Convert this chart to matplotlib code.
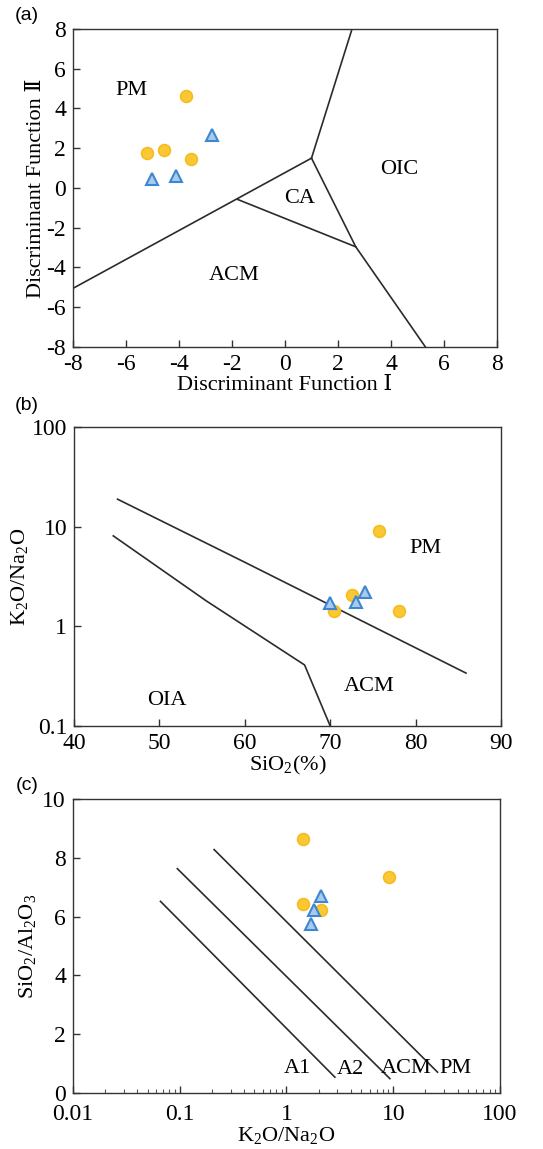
import numpy as np
import matplotlib
matplotlib.use("Agg")
from matplotlib import pyplot as plt
from matplotlib.ticker import LogLocator, FixedLocator, NullLocator

plt.rcParams['font.family'] = ['Liberation Serif', 'DejaVu Serif']
plt.rcParams['mathtext.fontset'] = 'custom'
plt.rcParams['mathtext.rm'] = 'Liberation Serif'
plt.rcParams['mathtext.it'] = 'Liberation Serif:italic'
plt.rcParams['axes.unicode_minus'] = False

# ---- panel (a): discriminant functions ----
a_circ_x = [-3.75, -5.2, -4.57, -3.55]
a_circ_y = [4.61, 1.78, 1.93, 1.46]
a_tri_x = [-2.74, -5.02, -4.12]
a_tri_y = [2.66, 0.45, 0.6]
a_lines = [
    ([-8, 1.0], [-5.05, 1.5]),
    ([1.0, 2.53], [1.5, 8]),
    ([1.0, 2.67, 5.3], [1.5, -2.96, -8]),
    ([-1.8, 2.67], [-0.57, -2.96]),
]
a_labels = [("PM", -5.8, 4.9), ("OIC", 4.3, 0.95), ("CA", 0.55, -0.55), ("ACM", -1.9, -4.4)]

# ---- panel (b): SiO2 vs K2O/Na2O ----
b_circ_x = [75.7, 72.5, 70.4, 78.1]
b_circ_y = [9.0, 2.06, 1.42, 1.42]
b_tri_x = [70.0, 73.0, 74.1]
b_tri_y = [1.72, 1.77, 2.19]
b_lines = [
    ([45.1, 60.0, 85.9], [18.9, 4.4, 0.34]),
    ([44.6, 55.5, 67.0, 70.0], [8.1, 1.8, 0.41, 0.1]),
]
b_labels = [("PM", 81.1, 6.0), ("ACM", 74.6, 0.25), ("OIA", 50.9, 0.18)]

# ---- panel (c): K2O/Na2O vs SiO2/Al2O3 ----
c_circ_x = [1.44, 9.2, 1.43, 2.1]
c_circ_y = [8.64, 7.35, 6.42, 6.21]
c_tri_x = [2.1, 1.8, 1.68]
c_tri_y = [6.69, 6.21, 5.76]
c_lines = [
    ([0.066, 2.84], [6.52, 0.54]),
    ([0.095, 9.3], [7.63, 0.49]),
    ([0.21, 26.0], [8.28, 0.71]),
]
c_labels = [("A1", 1.27, 0.82), ("A2", 3.98, 0.79), ("ACM", 13.1, 0.85), ("PM", 37.9, 0.82)]

circ_style = dict(marker='o', ms=8.5, mfc='#F9C834', mec='#F6BC1E', mew=1.2, ls='none')
tri_style = dict(marker='^', ms=8.5, mfc='#A9CBEB', mec='#3E86D1', mew=1.5, ls='none')
line_col = '#2b2b2b'
fs = 16
tfs = 17

fig = plt.figure(figsize=(5.43, 11.49), dpi=100)

def style(ax):
    for s in ax.spines.values():
        s.set_color('#333333')
        s.set_linewidth(1.0)
    ax.tick_params(direction='in', labelsize=tfs, length=5, width=1, color='#333333', pad=5)
    ax.tick_params(which='minor', direction='in', length=3, width=0.8, color='#555555')

# (a)
ax1 = fig.add_axes([0.1344, 0.698, 0.7809, 0.2768])
for lx, ly in a_lines:
    ax1.plot(lx, ly, color=line_col, lw=1.2)
ax1.plot(a_circ_x, a_circ_y, **circ_style)
ax1.plot(a_tri_x, a_tri_y, **tri_style)
for t, x, y in a_labels:
    ax1.text(x, y, t, fontsize=fs, ha='center', va='center')
ax1.set_xlim(-8, 8)
ax1.set_ylim(-8, 8)
ax1.set_xticks(np.arange(-8, 9, 2))
ax1.set_yticks(np.arange(-8, 9, 2))
ax1.set_xlabel("Discriminant Function \u2160", fontsize=fs, labelpad=1)
ax1.set_ylabel("Discriminant Function \u2161", fontsize=fs, labelpad=0)
style(ax1)

# (b)
ax2 = fig.add_axes([0.1363, 0.3681, 0.7864, 0.2602])
for lx, ly in b_lines:
    ax2.plot(lx, ly, color=line_col, lw=1.2)
ax2.plot(b_circ_x, b_circ_y, **circ_style)
ax2.plot(b_tri_x, b_tri_y, **tri_style)
for t, x, y in b_labels:
    ax2.text(x, y, t, fontsize=fs, ha='center', va='center')
ax2.set_yscale('log')
ax2.set_xlim(40, 90)
ax2.set_ylim(0.1, 100)
ax2.set_xticks(np.arange(40, 91, 10))
ax2.yaxis.set_major_locator(FixedLocator([0.1, 1, 10, 100]))
ax2.set_yticklabels(["0.1", "1", "10", "100"])
ax2.yaxis.set_minor_locator(NullLocator())
ax2.set_xlabel("SiO$_2$(%)", fontsize=fs, labelpad=0)
ax2.set_ylabel("K$_2$O/Na$_2$O", fontsize=fs, labelpad=1)
style(ax2)

# (c)
ax3 = fig.add_axes([0.1344, 0.0487, 0.7864, 0.2559])
for lx, ly in c_lines:
    ax3.plot(lx, ly, color=line_col, lw=1.2)
ax3.plot(c_circ_x, c_circ_y, **circ_style)
ax3.plot(c_tri_x, c_tri_y, **tri_style)
for t, x, y in c_labels:
    ax3.text(x, y, t, fontsize=fs, ha='center', va='center')
ax3.set_xscale('log')
ax3.set_xlim(0.01, 100)
ax3.set_ylim(0, 10)
ax3.xaxis.set_major_locator(FixedLocator([0.01, 0.1, 1, 10, 100]))
ax3.set_xticklabels(["0.01", "0.1", "1", "10", "100"])
ax3.xaxis.set_minor_locator(LogLocator(base=10, subs=np.arange(2, 10), numticks=20))
ax3.set_yticks(np.arange(0, 11, 2))
ax3.set_xlabel("K$_2$O/Na$_2$O", fontsize=fs, labelpad=0)
ax3.set_ylabel("SiO$_2$/Al$_2$O$_3$", fontsize=fs, labelpad=3)
style(ax3)
ax3.tick_params(axis='x', pad=8)

for lab, y in [("(a)", 15), ("(b)", 405), ("(c)", 785)]:
    fig.text(27 / 543, 1 - y / 1149, lab, fontsize=14, ha='center', va='center',
             family=['Liberation Sans', 'DejaVu Sans'])

fig.savefig("out.png", dpi=100)
